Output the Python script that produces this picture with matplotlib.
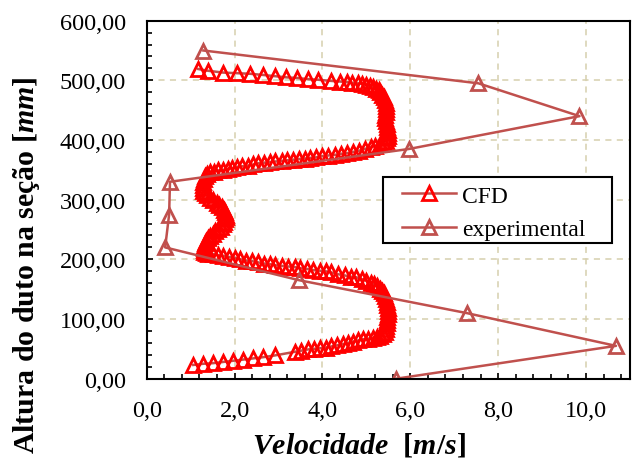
import matplotlib
matplotlib.use("Agg")
import matplotlib.pyplot as plt
from matplotlib.patches import Rectangle
from matplotlib.ticker import MultipleLocator, FuncFormatter

# Experimental points (velocity m/s, height mm)
exp_h = [550, 495, 440, 385, 330, 275, 220, 165, 110, 55, 0]
exp_vel = [1.29, 7.55, 9.85, 5.97, 0.53, 0.51, 0.42, 3.47, 7.28, 10.68, 5.68]

# CFD profile from top to bottom
cfd_vel = [1.17, 1.40, 1.74, 2.05, 2.35, 2.65, 2.92, 3.18, 3.41, 3.67, 3.90, 4.20,
           4.40, 4.55, 4.68, 4.80, 4.90, 5.00, 5.08, 5.15, 5.22, 5.28, 5.32, 5.36,
           5.39, 5.42, 5.44, 5.45, 5.45, 5.44, 5.43, 5.43, 5.44, 5.46, 5.48, 5.49,
           5.50, 5.50, 5.48, 5.44, 5.38, 5.30, 5.20, 5.10, 4.96, 4.83, 4.70, 4.56,
           4.43, 4.28, 4.13, 3.98, 3.86, 3.72, 3.60, 3.46, 3.33, 3.20, 3.07, 2.93,
           2.80, 2.67, 2.54, 2.42, 2.31, 2.18, 2.05, 1.95, 1.85, 1.74, 1.63, 1.53,
           1.44, 1.38, 1.33, 1.30, 1.28, 1.27, 1.27, 1.29, 1.33, 1.38, 1.45, 1.52,
           1.59, 1.65, 1.71, 1.76, 1.79, 1.80, 1.80, 1.79, 1.77, 1.73, 1.68, 1.62,
           1.56, 1.50, 1.45, 1.40, 1.36, 1.33, 1.31, 1.30, 1.30, 1.31, 1.34, 1.40,
           1.51, 1.62, 1.74, 1.87, 2.00, 2.13, 2.27, 2.40, 2.54, 2.67, 2.80, 2.93,
           3.07, 3.22, 3.37, 3.50, 3.64, 3.79, 3.94, 4.07, 4.20, 4.36, 4.51, 4.64,
           4.77, 4.89, 5.00, 5.10, 5.18, 5.25, 5.31, 5.36, 5.40, 5.43, 5.45, 5.47,
           5.48, 5.49, 5.49, 5.49, 5.48, 5.47, 5.46, 5.45, 5.44, 5.42, 5.38, 5.32,
           5.24, 5.14, 5.03, 4.92, 4.81, 4.70, 4.58, 4.47, 4.33, 4.20, 4.07, 3.94,
           3.80, 3.67, 3.52, 3.37, 2.92, 2.65, 2.42, 2.20, 1.97, 1.74, 1.51, 1.29,
           1.06]
cfd_h = [519, 516, 513, 512, 511, 509, 507, 505, 504, 502, 501, 499,
         498, 497, 496, 495, 494, 492, 490, 488, 486, 483, 480, 476,
         472, 467, 462, 457, 452, 447, 442, 437, 432, 427, 422, 417,
         412, 407, 403, 399, 396, 393, 390, 388, 385, 382, 380, 378,
         377, 375, 374, 373, 371, 370, 369, 368, 367, 366, 365, 364,
         363, 362, 361, 359, 357, 356, 355, 353, 351, 350, 349, 347,
         346, 343, 339, 335, 330, 325, 320, 315, 311, 307, 303, 299,
         295, 291, 287, 283, 279, 275, 271, 267, 263, 259, 255, 251,
         247, 243, 239, 235, 231, 227, 223, 219, 216, 213, 211, 209,
         209, 207, 206, 204, 203, 200, 198, 197, 195, 193, 192, 190,
         189, 188, 187, 185, 184, 182, 181, 180, 178, 175, 173, 171,
         170, 167, 164, 161, 158, 155, 151, 147, 143, 139, 134, 129,
         124, 119, 114, 109, 104, 99, 94, 89, 84, 79, 75, 72,
         70, 68, 67, 66, 64, 62, 60, 58, 56, 54, 52, 51,
         50, 49, 47, 45, 39, 36, 34, 32, 30, 28, 26, 25,
         23]

serif = "Liberation Serif"
plt.rcParams["font.family"] = serif
plt.rcParams["mathtext.fontset"] = "custom"
plt.rcParams["mathtext.it"] = "Liberation Serif:italic:bold"
plt.rcParams["mathtext.rm"] = "Liberation Serif:bold"

line_col = "#c0504d"
grid_col = "#d6d0ae"

fig = plt.figure(figsize=(6.34, 4.6), dpi=100)
ax = fig.add_axes([0.2314, 0.1746, 0.7623, 0.7783])

ax.plot(cfd_vel, cfd_h, color=line_col, lw=1.8, marker="^", ms=9.5,
        mfc="none", mec="red", mew=2.0, label="CFD")
ax.plot(exp_vel, exp_h, color=line_col, lw=1.8, marker="^", ms=9.5,
        mfc="none", mec=line_col, mew=2.0, label="experimental")

ax.set_xlim(0, 11)
ax.set_ylim(0, 600)
ax.xaxis.set_major_locator(MultipleLocator(2))
ax.xaxis.set_minor_locator(MultipleLocator(0.4))
ax.yaxis.set_major_locator(MultipleLocator(100))
ax.yaxis.set_minor_locator(MultipleLocator(20))
ax.xaxis.set_major_formatter(FuncFormatter(lambda v, p: f"{v:.1f}".replace(".", ",")))
ax.yaxis.set_major_formatter(FuncFormatter(lambda v, p: f"{v:.2f}".replace(".", ",")))

ax.grid(True, which="major", color=grid_col, ls=(0, (4, 3.5)), lw=1.1)
ax.set_axisbelow(True)

for s in ax.spines.values():
    s.set_linewidth(1.5)
    s.set_color("black")

ax.tick_params(which="both", direction="in", top=False, right=False,
               width=1.2, colors="black", labelsize=17.5)
ax.tick_params(which="major", length=4.5, pad=15)
ax.tick_params(which="minor", length=3.6)

ax.set_ylabel("Altura do duto na seção [$\\mathit{mm}$]", fontsize=21.5,
              fontweight="bold")
ax.yaxis.set_label_coords(-0.217, 0.32)
ax.set_xlabel("$\\mathit{Velocidade}$  [$\\mathit{m/s}$]", fontsize=21.5,
              fontweight="bold")
ax.xaxis.set_label_coords(0.439, -0.145)

# legend box drawn separately so the padding can match the original
frame = Rectangle((0.4883, 0.379), 0.4738, 0.1852, transform=ax.transAxes,
                  facecolor="white", edgecolor="black", lw=1.5, zorder=4)
ax.add_patch(frame)
leg = ax.legend(loc="upper left", bbox_to_anchor=(0.528, 0.541), fontsize=17,
                frameon=False, handlelength=2.3, handletextpad=0.25,
                labelspacing=0.5, borderpad=0, borderaxespad=0)
leg.set_zorder(5)

fig.savefig("out.png", dpi=100, facecolor="white")
